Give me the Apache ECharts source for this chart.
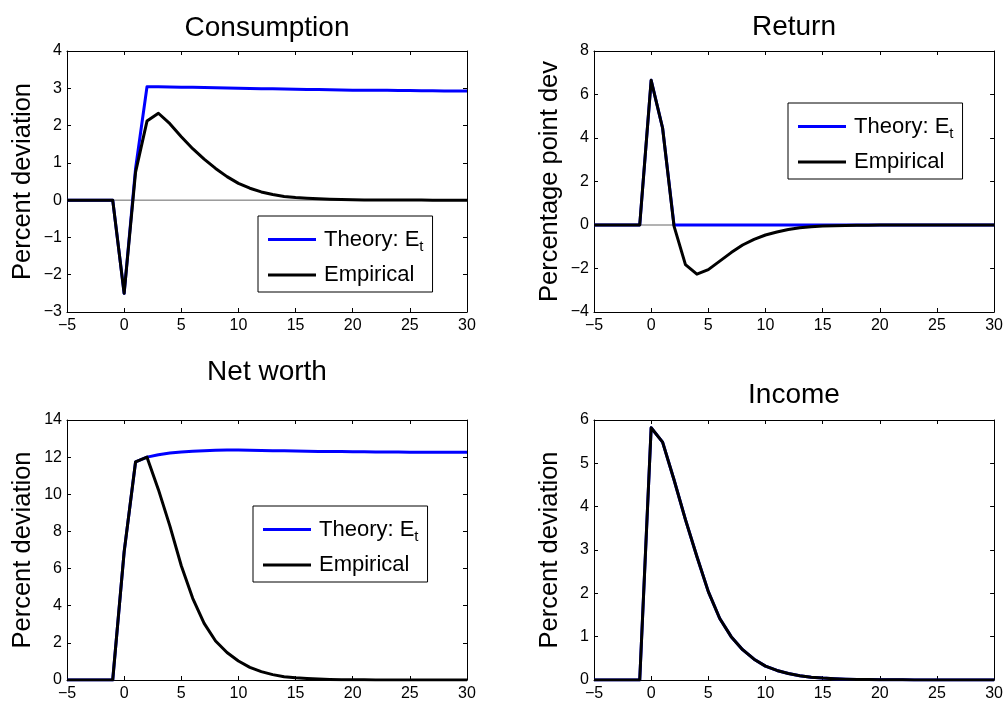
<!DOCTYPE html>
<html>
<head>
<meta charset="utf-8">
<script src="https://cdn.jsdelivr.net/npm/echarts@6/dist/echarts.min.js"></script>
<style>
  html, body { margin: 0; padding: 0; background: #fff; }
  #chart { width: 1006px; height: 702px; }
</style>
</head>
<body>
<div id="chart"></div>
<script>
// ---- data ----
const horizon = [-5,-4,-3,-2,-1,0,1,2,3,4,5,6,7,8,9,10,11,12,13,14,15,16,17,18,19,20,21,22,23,24,25,26,27,28,29,30];
const xTicks = [-5, 30, 5];

const titles = ['Consumption', 'Return', 'Net worth', 'Income'];
const yNames = ['Percent deviation', 'Percentage point dev', 'Percent deviation', 'Percent deviation'];
const yRanges = [[-3, 4, 1], [-4, 8, 2], [0, 14, 2], [0, 6, 1]];
const seriesNames = ['Theory', 'Empirical'];

const consumptionTheory = [0,0,0,0,0,-2.5,0.85,3.04,3.04,3.035,3.03,3.025,3.02,3.015,3.01,3.0,2.995,2.99,2.985,2.98,2.975,2.97,2.965,2.96,2.955,2.95,2.95,2.945,2.945,2.94,2.94,2.935,2.935,2.93,2.93,2.93];
const consumptionEmpirical = [0,0,0,0,0,-2.5,0.75,2.12,2.33,2.05,1.7,1.38,1.1,0.85,0.63,0.45,0.32,0.22,0.15,0.1,0.07,0.05,0.035,0.024,0.016,0.011,0.007,0.005,0.003,0.002,0.001,0.001,0,0,0,0];

const returnTheory = [0,0,0,0,0,6.65,4.46,0,0,0,0,0,0,0,0,0,0,0,0,0,0,0,0,0,0,0,0,0,0,0,0,0,0,0,0,0];
const returnEmpirical = [0,0,0,0,0,6.65,4.46,-0.05,-1.82,-2.26,-2.05,-1.66,-1.27,-0.92,-0.66,-0.46,-0.32,-0.21,-0.13,-0.08,-0.05,-0.03,-0.02,-0.012,-0.007,-0.004,-0.002,-0.001,0,0,0,0,0,0,0,0];

const netWorthTheory = [0,0,0,0,0,6.9,11.75,12.0,12.13,12.22,12.28,12.32,12.35,12.37,12.38,12.38,12.37,12.36,12.35,12.34,12.33,12.32,12.31,12.3,12.3,12.29,12.29,12.28,12.28,12.28,12.27,12.27,12.27,12.27,12.27,12.27];
const netWorthEmpirical = [0,0,0,0,0,6.9,11.75,12.0,10.25,8.3,6.15,4.4,3.05,2.1,1.48,1.02,0.68,0.45,0.29,0.18,0.12,0.08,0.05,0.03,0.02,0.013,0.008,0.005,0.003,0.002,0.001,0.001,0,0,0,0];

const incomeTheory = [0,0,0,0,0,5.82,5.49,4.62,3.7,2.85,2.04,1.42,1.0,0.7,0.48,0.32,0.22,0.15,0.1,0.066,0.044,0.03,0.02,0.013,0.009,0.006,0.004,0.003,0.002,0.001,0.001,0,0,0,0,0];
const incomeEmpirical = [0,0,0,0,0,5.82,5.49,4.62,3.7,2.85,2.04,1.42,1.0,0.7,0.48,0.32,0.22,0.15,0.1,0.066,0.044,0.03,0.02,0.013,0.009,0.006,0.004,0.003,0.002,0.001,0.001,0,0,0,0,0];

const panelData = [
  [consumptionTheory, consumptionEmpirical],
  [returnTheory, returnEmpirical],
  [netWorthTheory, netWorthEmpirical],
  [incomeTheory, incomeEmpirical]
];
const showZeroLine = [true, true, false, false];

// ---- layout / style ----
const FONT = 'Liberation Sans, Arial, Helvetica, sans-serif';
const grids = [
  { left: 67, top: 51, width: 400, height: 261 },
  { left: 594, top: 51, width: 401, height: 261 },
  { left: 67, top: 420, width: 400, height: 261 },
  { left: 594, top: 420, width: 401, height: 261 }
];
const titlePos = [[267, 28], [794, 27], [267, 372], [794, 395]];
const legendPos = [[258, 216], [788, 103], [253, 506]];

const minus = v => String(v).replace('-', '\u2212');

const xAxes = [], yAxes = [], series = [], legends = [], graphics = [];
grids.forEach((g, p) => {
  const baseX = {
    type: 'value', gridIndex: p, min: xTicks[0], max: xTicks[1], interval: xTicks[2],
    axisLine: { show: true, onZero: false, lineStyle: { color: '#000', width: 1 } },
    axisTick: { show: true, inside: true, length: 4, lineStyle: { color: '#000' } },
    splitLine: { show: false }
  };
  xAxes.push(Object.assign({}, baseX, {
    position: 'bottom',
    axisLabel: { show: true, margin: 6, fontSize: 16, color: '#000', fontFamily: FONT, formatter: minus, showMinLabel: true, showMaxLabel: true }
  }));
  xAxes.push(Object.assign({}, baseX, { position: 'top', axisLabel: { show: false } }));

  const r = yRanges[p];
  const baseY = {
    type: 'value', gridIndex: p, min: r[0], max: r[1], interval: r[2],
    axisLine: { show: true, onZero: false, lineStyle: { color: '#000', width: 1 } },
    axisTick: { show: true, inside: true, length: 4, lineStyle: { color: '#000' } },
    splitLine: { show: false }
  };
  yAxes.push(Object.assign({}, baseY, {
    position: 'left',
    name: yNames[p], nameLocation: 'middle', nameGap: 31,
    nameTextStyle: { fontSize: 25.5, color: '#000', fontFamily: FONT },
    axisLabel: { show: true, margin: 5, fontSize: 16, color: '#000', fontFamily: FONT, formatter: minus, showMinLabel: true, showMaxLabel: true }
  }));
  yAxes.push(Object.assign({}, baseY, { position: 'right', axisLabel: { show: false } }));

  if (showZeroLine[p]) {
    series.push({
      type: 'line', name: 'zero', xAxisIndex: 2 * p, yAxisIndex: 2 * p,
      data: [[horizon[0], 0], [horizon[horizon.length - 1], 0]],
      symbol: 'none', silent: true, z: 1,
      lineStyle: { color: '#666666', width: 1 }
    });
  }
  const [theory, empirical] = panelData[p];
  series.push({
    type: 'line', name: seriesNames[0], xAxisIndex: 2 * p, yAxisIndex: 2 * p,
    data: horizon.map((x, i) => [x, theory[i]]),
    symbol: 'none', z: 2, color: '#0000ff',
    lineStyle: { color: '#0000ff', width: 3, join: 'round' }
  });
  series.push({
    type: 'line', name: seriesNames[1], xAxisIndex: 2 * p, yAxisIndex: 2 * p,
    data: horizon.map((x, i) => [x, empirical[i]]),
    symbol: 'none', z: 3, color: '#000000',
    lineStyle: { color: '#000000', width: 3, join: 'round' }
  });

  graphics.push({
    type: 'text', x: titlePos[p][0], y: titlePos[p][1], silent: true,
    style: { text: titles[p], fill: '#000', font: '28px ' + FONT, textAlign: 'center', textVerticalAlign: 'middle' }
  });
});

legendPos.forEach(pos => {
  legends.push({
    data: seriesNames.slice(),
    orient: 'vertical',
    left: pos[0], top: pos[1],
    padding: [9, 9, 6, 10],
    itemGap: 10,
    itemWidth: 48, itemHeight: 3,
    icon: 'rect',
    backgroundColor: '#fff',
    borderColor: '#000', borderWidth: 1, borderRadius: 0,
    selectedMode: false,
    formatter: name => name === 'Theory' ? '{m|Theory: E}{s|t}' : '{m|Empirical}',
    textStyle: {
      color: '#000', fontFamily: FONT, fontSize: 22, padding: [0, 0, 0, 3],
      rich: {
        m: { fontSize: 22, lineHeight: 28, color: '#000', fontFamily: FONT },
        s: { fontSize: 15, lineHeight: 14, padding: [14, 0, 0, 0], color: '#000', fontFamily: FONT }
      }
    }
  });
});

const chart = echarts.init(document.getElementById('chart'), null, { renderer: 'canvas' });
chart.setOption({
  animation: false,
  backgroundColor: '#fff',
  grid: grids.map(g => Object.assign({ containLabel: false }, g)),
  xAxis: xAxes,
  yAxis: yAxes,
  legend: legends,
  series: series,
  graphic: graphics
});
</script>
</body>
</html>
